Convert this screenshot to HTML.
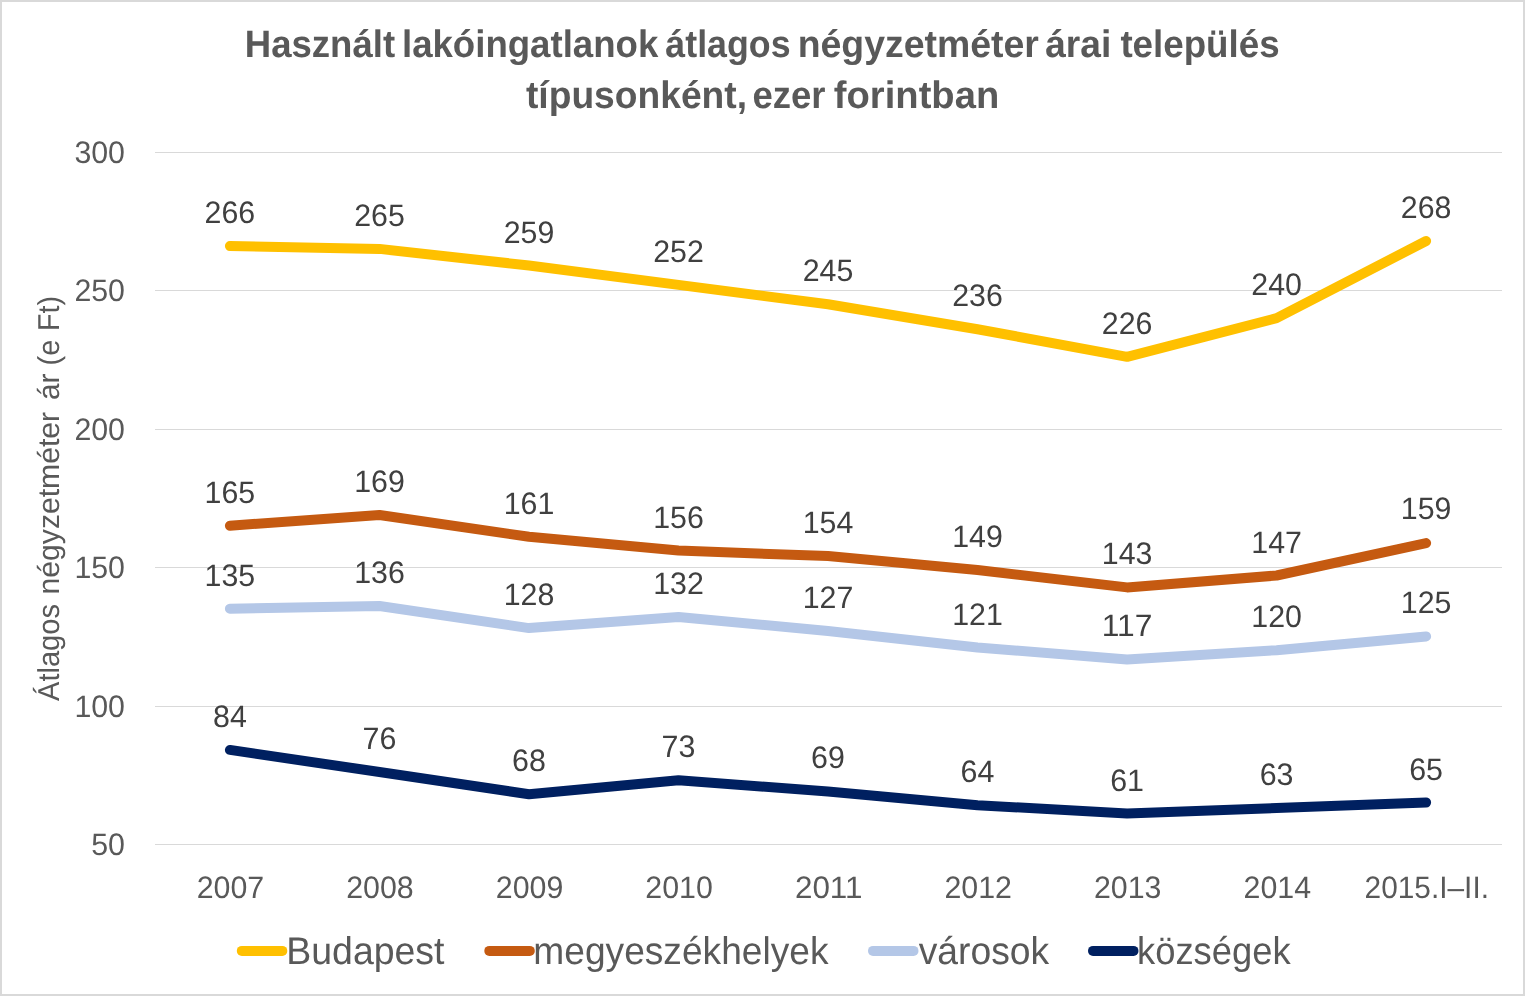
<!DOCTYPE html>
<html lang="hu">
<head>
<meta charset="utf-8">
<title>Használt lakóingatlanok átlagos négyzetméter árai</title>
<style>
html,body{margin:0;padding:0;background:#fff;}
body{width:1525px;height:996px;overflow:hidden;}
svg{display:block;}
text{font-family:"Liberation Sans",sans-serif;}
text{text-rendering:geometricPrecision;}
.ax{font-size:31px;fill:#595959;}
.dl{font-size:31px;fill:#404040;text-anchor:middle;}
.lg{font-size:38.5px;fill:#595959;}
.tt{font-size:38.2px;font-weight:bold;fill:#595959;}
.ln{fill:none;stroke-width:10.0;stroke-linecap:round;stroke-linejoin:round;}
.gr{stroke:#D9D9D9;stroke-width:1;}
</style>
</head>
<body>
<svg width="1525" height="996" viewBox="0 0 1525 996">
<rect x="1" y="1" width="1523" height="994" fill="#fff" stroke="#D9D9D9" stroke-width="2"/>
<text class="tt" x="244.79" y="56.6" textLength="150.28" lengthAdjust="spacingAndGlyphs">Használt</text>
<text class="tt" x="401.98" y="56.6" textLength="256.32" lengthAdjust="spacingAndGlyphs">lakóingatlanok</text>
<text class="tt" x="665.33" y="56.6" textLength="125.27" lengthAdjust="spacingAndGlyphs">átlagos</text>
<text class="tt" x="797.71" y="56.6" textLength="241.05" lengthAdjust="spacingAndGlyphs">négyzetméter</text>
<text class="tt" x="1045.21" y="56.6" textLength="66.09" lengthAdjust="spacingAndGlyphs">árai</text>
<text class="tt" x="1120.38" y="56.6" textLength="159.18" lengthAdjust="spacingAndGlyphs">település</text>
<text class="tt" x="525.96" y="107.7" textLength="221.07" lengthAdjust="spacingAndGlyphs">típusonként,</text>
<text class="tt" x="752.45" y="107.7" textLength="72.92" lengthAdjust="spacingAndGlyphs">ezer</text>
<text class="tt" x="833.85" y="107.7" textLength="165.36" lengthAdjust="spacingAndGlyphs">forintban</text>
<line class="gr" x1="155" y1="152.5" x2="1502" y2="152.5"/>
<text class="ax" x="125" y="162.8" text-anchor="end" textLength="50.6" lengthAdjust="spacingAndGlyphs">300</text>
<line class="gr" x1="155" y1="290.5" x2="1502" y2="290.5"/>
<text class="ax" x="125" y="300.8" text-anchor="end" textLength="50.6" lengthAdjust="spacingAndGlyphs">250</text>
<line class="gr" x1="155" y1="429.5" x2="1502" y2="429.5"/>
<text class="ax" x="125" y="439.8" text-anchor="end" textLength="50.6" lengthAdjust="spacingAndGlyphs">200</text>
<line class="gr" x1="155" y1="567.5" x2="1502" y2="567.5"/>
<text class="ax" x="125" y="577.8" text-anchor="end" textLength="50.6" lengthAdjust="spacingAndGlyphs">150</text>
<line class="gr" x1="155" y1="706.5" x2="1502" y2="706.5"/>
<text class="ax" x="125" y="716.8" text-anchor="end" textLength="50.6" lengthAdjust="spacingAndGlyphs">100</text>
<line class="gr" x1="155" y1="844.5" x2="1502" y2="844.5"/>
<text class="ax" x="125" y="854.8" text-anchor="end" textLength="33.8" lengthAdjust="spacingAndGlyphs">50</text>
<text class="ax" style="font-size:30.2px" transform="translate(59.2 700.94) rotate(-90)" textLength="96.89" lengthAdjust="spacingAndGlyphs">Átlagos</text>
<text class="ax" style="font-size:30.2px" transform="translate(59.2 594.48) rotate(-90)" textLength="182.65" lengthAdjust="spacingAndGlyphs">négyzetméter</text>
<text class="ax" style="font-size:30.2px" transform="translate(59.2 400.06) rotate(-90)" textLength="26.41" lengthAdjust="spacingAndGlyphs">ár</text>
<text class="ax" style="font-size:30.2px" transform="translate(59.2 365.39) rotate(-90)" textLength="25.79" lengthAdjust="spacingAndGlyphs">(e</text>
<text class="ax" style="font-size:30.2px" transform="translate(59.2 330.92) rotate(-90)" textLength="34.89" lengthAdjust="spacingAndGlyphs">Ft)</text>
<text class="ax" x="230.5" y="898" text-anchor="middle" textLength="67.5" lengthAdjust="spacingAndGlyphs">2007</text>
<text class="ax" x="380.0" y="898" text-anchor="middle" textLength="67.5" lengthAdjust="spacingAndGlyphs">2008</text>
<text class="ax" x="529.6" y="898" text-anchor="middle" textLength="67.5" lengthAdjust="spacingAndGlyphs">2009</text>
<text class="ax" x="679.1" y="898" text-anchor="middle" textLength="67.5" lengthAdjust="spacingAndGlyphs">2010</text>
<text class="ax" x="828.7" y="898" text-anchor="middle" textLength="67.5" lengthAdjust="spacingAndGlyphs">2011</text>
<text class="ax" x="978.2" y="898" text-anchor="middle" textLength="67.5" lengthAdjust="spacingAndGlyphs">2012</text>
<text class="ax" x="1127.7" y="898" text-anchor="middle" textLength="67.5" lengthAdjust="spacingAndGlyphs">2013</text>
<text class="ax" x="1277.3" y="898" text-anchor="middle" textLength="67.5" lengthAdjust="spacingAndGlyphs">2014</text>
<text class="ax" x="1426.8" y="898" text-anchor="middle" textLength="124.4" lengthAdjust="spacingAndGlyphs">2015.I–II.</text>
<polyline class="ln" stroke="#FFC000" points="229.9,246.1 379.5,248.9 529.0,265.5 678.5,284.9 828.0,304.2 977.5,329.2 1127.1,356.8 1276.6,318.1 1426.1,241.0"/>
<polyline class="ln" stroke="#C55A11" points="229.9,525.7 379.5,515.0 529.0,536.8 678.5,550.6 828.0,556.1 977.5,570.0 1127.1,587.4 1276.6,575.5 1426.1,543.1"/>
<polyline class="ln" stroke="#B4C7E7" points="229.9,608.7 379.5,606.0 529.0,628.1 678.5,617.0 828.0,630.9 977.5,647.5 1127.1,659.5 1276.6,650.2 1426.1,636.4"/>
<polyline class="ln" stroke="#002060" points="229.9,749.9 379.5,772.0 529.0,794.2 678.5,780.3 828.0,791.4 977.5,805.2 1127.1,813.6 1276.6,808.0 1426.1,802.5"/>
<text class="dl" x="229.9" y="223.1" textLength="50.6" lengthAdjust="spacingAndGlyphs">266</text>
<text class="dl" x="379.5" y="225.9" textLength="50.6" lengthAdjust="spacingAndGlyphs">265</text>
<text class="dl" x="529.0" y="242.5" textLength="50.6" lengthAdjust="spacingAndGlyphs">259</text>
<text class="dl" x="678.5" y="261.9" textLength="50.6" lengthAdjust="spacingAndGlyphs">252</text>
<text class="dl" x="828.0" y="281.2" textLength="50.6" lengthAdjust="spacingAndGlyphs">245</text>
<text class="dl" x="977.5" y="306.2" textLength="50.6" lengthAdjust="spacingAndGlyphs">236</text>
<text class="dl" x="1127.1" y="333.8" textLength="50.6" lengthAdjust="spacingAndGlyphs">226</text>
<text class="dl" x="1276.6" y="295.1" textLength="50.6" lengthAdjust="spacingAndGlyphs">240</text>
<text class="dl" x="1426.1" y="217.6" textLength="50.6" lengthAdjust="spacingAndGlyphs">268</text>
<text class="dl" x="229.9" y="502.7" textLength="50.6" lengthAdjust="spacingAndGlyphs">165</text>
<text class="dl" x="379.5" y="491.6" textLength="50.6" lengthAdjust="spacingAndGlyphs">169</text>
<text class="dl" x="529.0" y="513.8" textLength="50.6" lengthAdjust="spacingAndGlyphs">161</text>
<text class="dl" x="678.5" y="527.6" textLength="50.6" lengthAdjust="spacingAndGlyphs">156</text>
<text class="dl" x="828.0" y="533.1" textLength="50.6" lengthAdjust="spacingAndGlyphs">154</text>
<text class="dl" x="977.5" y="547.0" textLength="50.6" lengthAdjust="spacingAndGlyphs">149</text>
<text class="dl" x="1127.1" y="563.6" textLength="50.6" lengthAdjust="spacingAndGlyphs">143</text>
<text class="dl" x="1276.6" y="552.5" textLength="50.6" lengthAdjust="spacingAndGlyphs">147</text>
<text class="dl" x="1426.1" y="519.3" textLength="50.6" lengthAdjust="spacingAndGlyphs">159</text>
<text class="dl" x="229.9" y="585.7" textLength="50.6" lengthAdjust="spacingAndGlyphs">135</text>
<text class="dl" x="379.5" y="583.0" textLength="50.6" lengthAdjust="spacingAndGlyphs">136</text>
<text class="dl" x="529.0" y="605.1" textLength="50.6" lengthAdjust="spacingAndGlyphs">128</text>
<text class="dl" x="678.5" y="594.0" textLength="50.6" lengthAdjust="spacingAndGlyphs">132</text>
<text class="dl" x="828.0" y="607.9" textLength="50.6" lengthAdjust="spacingAndGlyphs">127</text>
<text class="dl" x="977.5" y="624.5" textLength="50.6" lengthAdjust="spacingAndGlyphs">121</text>
<text class="dl" x="1127.1" y="635.5" textLength="50.6" lengthAdjust="spacingAndGlyphs">117</text>
<text class="dl" x="1276.6" y="627.2" textLength="50.6" lengthAdjust="spacingAndGlyphs">120</text>
<text class="dl" x="1426.1" y="613.4" textLength="50.6" lengthAdjust="spacingAndGlyphs">125</text>
<text class="dl" x="229.9" y="726.9" textLength="33.8" lengthAdjust="spacingAndGlyphs">84</text>
<text class="dl" x="379.5" y="749.0" textLength="33.8" lengthAdjust="spacingAndGlyphs">76</text>
<text class="dl" x="529.0" y="771.2" textLength="33.8" lengthAdjust="spacingAndGlyphs">68</text>
<text class="dl" x="678.5" y="757.3" textLength="33.8" lengthAdjust="spacingAndGlyphs">73</text>
<text class="dl" x="828.0" y="768.4" textLength="33.8" lengthAdjust="spacingAndGlyphs">69</text>
<text class="dl" x="977.5" y="782.2" textLength="33.8" lengthAdjust="spacingAndGlyphs">64</text>
<text class="dl" x="1127.1" y="790.6" textLength="33.8" lengthAdjust="spacingAndGlyphs">61</text>
<text class="dl" x="1276.6" y="785.0" textLength="33.8" lengthAdjust="spacingAndGlyphs">63</text>
<text class="dl" x="1426.1" y="779.5" textLength="33.8" lengthAdjust="spacingAndGlyphs">65</text>
<line x1="241.8" y1="950.9" x2="282.3" y2="950.9" stroke="#FFC000" stroke-width="10.0" stroke-linecap="round"/>
<text class="lg" x="286.29" y="963.7" textLength="158.22" lengthAdjust="spacingAndGlyphs">Budapest</text>
<line x1="489.3" y1="950.9" x2="529.8" y2="950.9" stroke="#C55A11" stroke-width="10.0" stroke-linecap="round"/>
<text class="lg" x="533.34" y="963.7" textLength="295.14" lengthAdjust="spacingAndGlyphs">megyeszékhelyek</text>
<line x1="873.0" y1="950.9" x2="913.5" y2="950.9" stroke="#B4C7E7" stroke-width="10.0" stroke-linecap="round"/>
<text class="lg" x="918.74" y="963.7" textLength="130.46" lengthAdjust="spacingAndGlyphs">városok</text>
<line x1="1093.0" y1="950.9" x2="1133.5" y2="950.9" stroke="#002060" stroke-width="10.0" stroke-linecap="round"/>
<text class="lg" x="1137.03" y="963.7" textLength="153.67" lengthAdjust="spacingAndGlyphs">községek</text>
</svg>
</body>
</html>
